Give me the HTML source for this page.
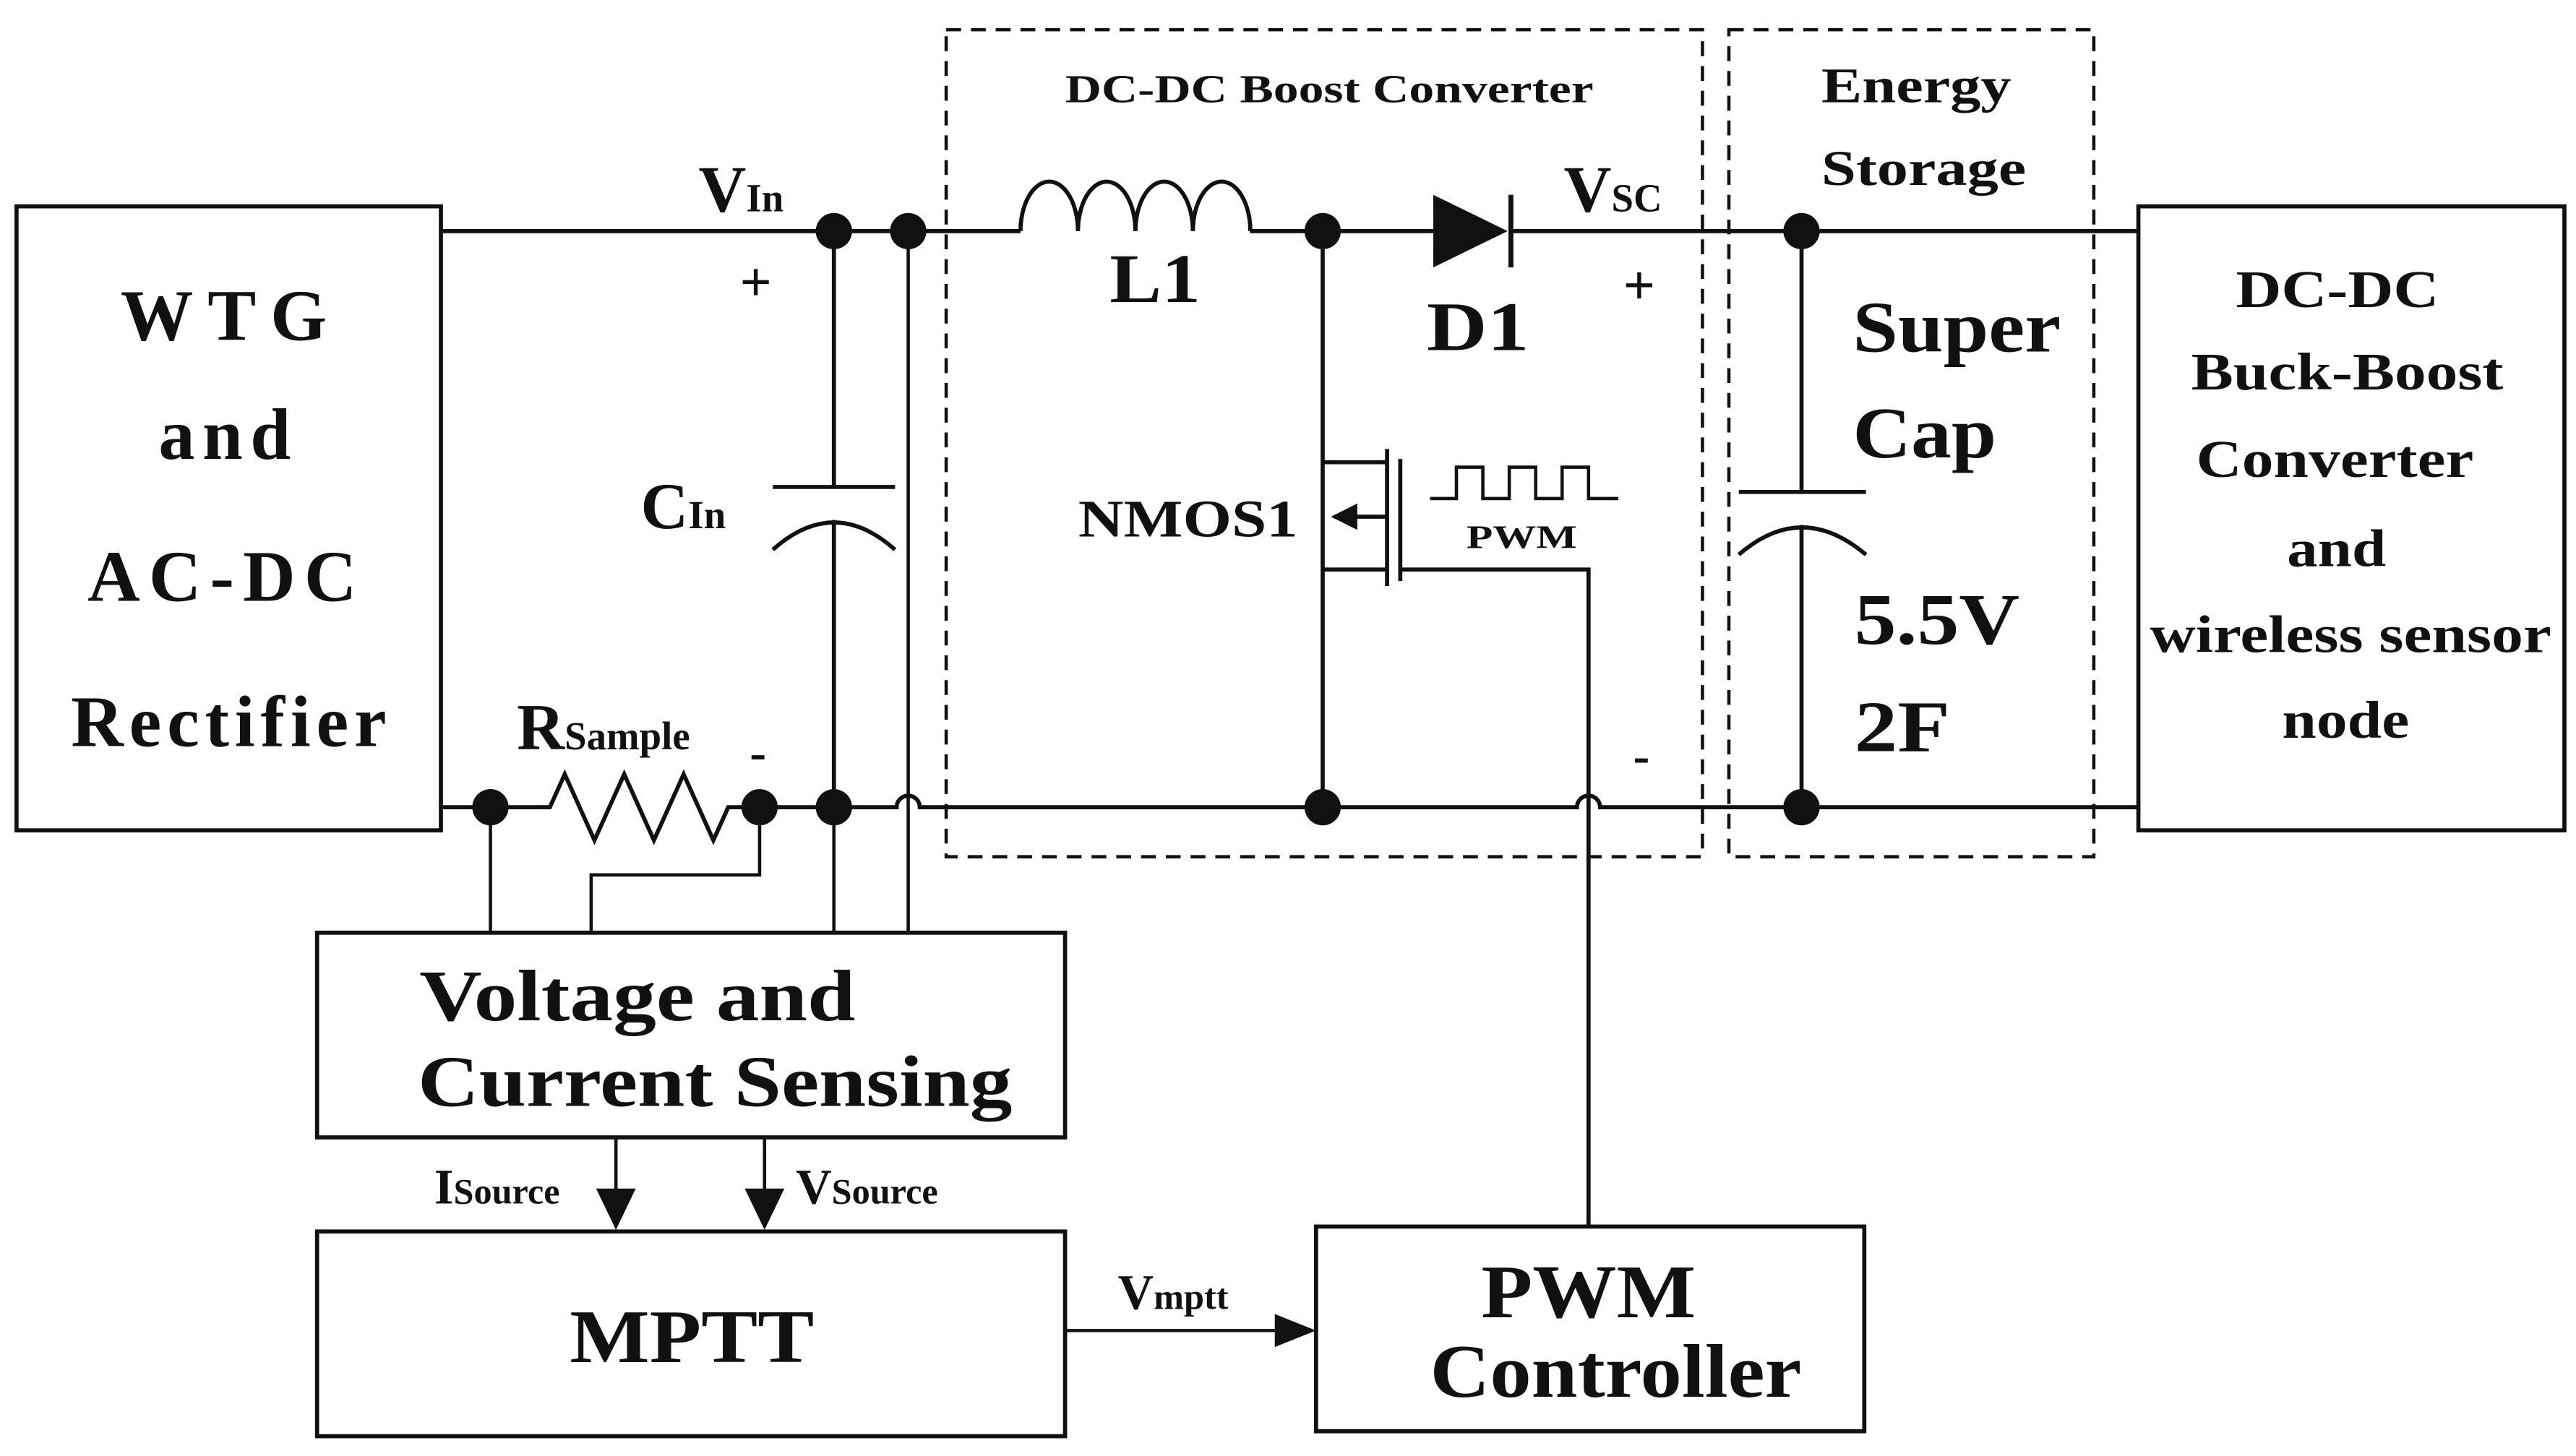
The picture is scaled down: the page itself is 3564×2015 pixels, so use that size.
<!DOCTYPE html>
<html><head><style>body{margin:0;background:#fff}svg{display:block}text{font-family:"Liberation Serif",serif;font-weight:bold;fill:#111}</style></head>
<body>
<svg width="3564" height="2015" viewBox="0 0 1560 882" xmlns="http://www.w3.org/2000/svg">
<rect width="1560" height="882" fill="#fff"/>
<g stroke="#111" stroke-width="2.5" fill="none">
<rect x="10" y="125" width="257" height="378"/>
<rect x="1295" y="125" width="258" height="378"/>
<rect x="573" y="18" width="458" height="501" stroke-dasharray="9,6" stroke-width="2"/>
<rect x="1047" y="18" width="221" height="501" stroke-dasharray="9,6" stroke-width="2"/>
<path d="M267 140 H618 M757 140 H868 M915 140 H1295"/>
<path d="M618 140 a17.4 30 0 0 1 34.8 0 a17.4 30 0 0 1 34.8 0 a17.4 30 0 0 1 34.8 0 a17.4 30 0 0 1 34.8 0"/>
<path d="M915 118 V162" stroke-width="3"/>
<path d="M267 489 H333 l9 -20 l18 40 l18 -40 l18 40 l18 -40 l18 40 l9 -20 H543 a7 7 0 0 1 14 0 H955 a7 7 0 0 1 14 0 H1295"/>
<path d="M505 140 V295 M468 295 H542 M468 333 Q505 300 542 333 M505 315 V489"/>
<path d="M1091 140 V298 M1053 298 H1130 M1053 336 Q1091 303 1130 336 M1091 318 V489"/>
<path d="M801 140 V280 H840 M801 345 H840 M801 345 V489 M801 280 V345 M808 313 H840 M840 272 V355 M848 278 V352"/>
<path d="M848 345 H962 V743"/>
<path d="M866 302 H882 V283 H898 V302 H914 V283 H930 V302 H946 V283 H962 V302 H980" stroke-width="2"/>
<path d="M297 489 V565 M460 489 V530 H358 V565 M505 489 V565 M550 140 V565" stroke-width="2"/>
<rect x="192" y="565" width="453" height="124"/>
<rect x="192" y="746" width="453" height="124"/>
<rect x="797" y="743" width="332" height="124"/>
<path d="M373 689 V725 M463 689 V725 M645 806 H775" stroke-width="2"/>
</g>
<g fill="#111">
<polygon points="868,118 868,162 913,140"/>
<polygon points="806,313 822,305 822,321"/>
<polygon points="361,720 385,720 373,745"/>
<polygon points="451,720 475,720 463,745"/>
<polygon points="772,796 772,816 797,806"/>
<circle cx="505" cy="140" r="11"/><circle cx="550" cy="140" r="11"/><circle cx="801" cy="140" r="11"/><circle cx="1091" cy="140" r="11"/>
<circle cx="297" cy="489" r="11"/><circle cx="460" cy="489" r="11"/><circle cx="505" cy="489" r="11"/><circle cx="801" cy="489" r="11"/><circle cx="1091" cy="489" r="11"/>
</g>
<g font-size="44" lengthAdjust="spacingAndGlyphs">
<text x="73" y="206" textLength="125">WTG</text><text x="96" y="278" textLength="80">and</text><text x="53" y="364" textLength="163">AC-DC</text><text x="43" y="452" textLength="191">Rectifier</text>
</g>
<g font-size="32">
<text x="1354" y="186" textLength="123" lengthAdjust="spacingAndGlyphs">DC-DC</text>
<text x="1327" y="236" textLength="189" lengthAdjust="spacingAndGlyphs">Buck-Boost</text>
<text x="1330" y="289" textLength="168" lengthAdjust="spacingAndGlyphs">Converter</text>
<text x="1385" y="343" textLength="60" lengthAdjust="spacingAndGlyphs">and</text>
<text x="1302" y="395" textLength="243" lengthAdjust="spacingAndGlyphs">wireless sensor</text>
<text x="1382" y="447" textLength="77" lengthAdjust="spacingAndGlyphs">node</text>
</g>
<text x="645" y="62" font-size="24" textLength="320" lengthAdjust="spacingAndGlyphs">DC-DC Boost Converter</text>
<text x="1103" y="62" font-size="30" textLength="115" lengthAdjust="spacingAndGlyphs">Energy</text>
<text x="1103" y="112" font-size="30" textLength="124" lengthAdjust="spacingAndGlyphs">Storage</text>
<text x="1122" y="213" font-size="44" textLength="126" lengthAdjust="spacingAndGlyphs">Super</text>
<text x="1122" y="277" font-size="44" textLength="87" lengthAdjust="spacingAndGlyphs">Cap</text>
<text x="1123" y="390" font-size="44" textLength="100" lengthAdjust="spacingAndGlyphs">5.5V</text>
<text x="1123" y="455" font-size="44" textLength="58" lengthAdjust="spacingAndGlyphs">2F</text>
<text x="423" y="128" font-size="40">V<tspan font-size="24">In</tspan></text>
<text x="947" y="128" font-size="40">V<tspan font-size="24">SC</tspan></text>
<text x="448" y="182" font-size="34">+</text><text x="983" y="184" font-size="34">+</text>
<text x="454" y="466" font-size="30">-</text><text x="989" y="468" font-size="30">-</text>
<text x="672" y="183" font-size="42" textLength="55" lengthAdjust="spacingAndGlyphs">L1</text>
<text x="864" y="212" font-size="42" textLength="62" lengthAdjust="spacingAndGlyphs">D1</text>
<text x="388" y="320" font-size="40">C<tspan font-size="24">In</tspan></text>
<text x="653" y="325" font-size="32" textLength="133" lengthAdjust="spacingAndGlyphs">NMOS1</text>
<text x="888" y="332" font-size="20" textLength="67" lengthAdjust="spacingAndGlyphs">PWM</text>
<text x="313" y="454" font-size="40">R<tspan font-size="24">Sample</tspan></text>
<text x="254" y="618" font-size="44" textLength="264" lengthAdjust="spacingAndGlyphs">Voltage and</text>
<text x="253" y="670" font-size="44" textLength="360" lengthAdjust="spacingAndGlyphs">Current Sensing</text>
<text x="263" y="729" font-size="30">I<tspan font-size="22">Source</tspan></text>
<text x="482" y="729" font-size="30">V<tspan font-size="22">Source</tspan></text>
<text x="345" y="825" font-size="46" textLength="148" lengthAdjust="spacingAndGlyphs">MPTT</text>
<text x="677" y="793" font-size="30">V<tspan font-size="22">mptt</tspan></text>
<text x="897" y="798" font-size="46" textLength="130" lengthAdjust="spacingAndGlyphs">PWM</text>
<text x="866" y="846" font-size="46" textLength="225" lengthAdjust="spacingAndGlyphs">Controller</text>
</svg>
</body></html>
